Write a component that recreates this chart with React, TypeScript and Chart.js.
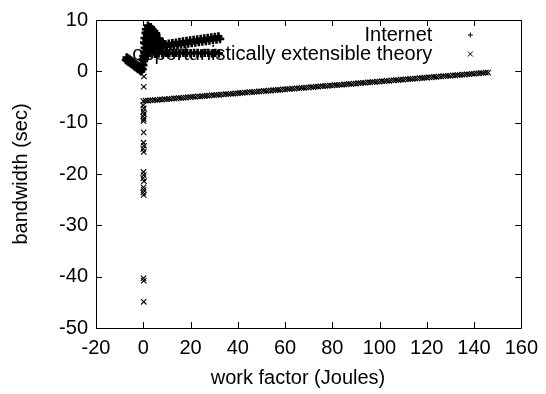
import React, { useEffect, useRef } from "react";
import { Chart, registerables } from "chart.js";

Chart.register(...registerables);

const xTickValues = [-20, 0, 20, 40, 60, 80, 100, 120, 140, 160];
const yTickValues = [-50, -40, -30, -20, -10, 0, 10];
const seriesNames = ["Internet", "opportunistically extensible theory"];
const xTitle = "work factor (Joules)";
const yTitle = "bandwidth (sec)";

// "Internet" (+) points
const internetPoints: [number, number][] = [
  // left arm
  [-7.3, 2.2], [-6.7, 2.0], [-6.1, 1.8], [-5.5, 1.6], [-4.9, 1.4], [-4.3, 1.2], [-3.7, 1.0], [-3.1, 0.8],
  [-2.5, 0.6], [-1.9, 0.4], [-1.3, 0.2], [-0.9, 0.0],
  [-7.0, 2.7], [-6.4, 2.5], [-5.8, 2.3], [-5.2, 2.1], [-4.6, 1.9], [-4.0, 1.7], [-3.4, 1.5], [-2.8, 1.3],
  [-2.2, 1.1], [-1.6, 0.9], [-1.0, 0.7],
  // spike
  [-0.8, 0.6], [-0.5, 1.4], [-0.2, 2.2], [0.1, 3.0], [0.4, 3.8], [0.7, 4.6], [1.0, 5.4], [1.3, 6.2],
  [1.6, 7.0], [1.9, 7.8], [2.2, 8.6],
  [-0.3, 0.4], [0.0, 1.2], [0.3, 2.0], [0.6, 2.8], [0.9, 3.6], [1.2, 4.4], [1.5, 5.2], [1.8, 6.0],
  [2.1, 6.8], [2.4, 7.6], [1.0, 7.5], [1.2, 8.2], [0.6, 6.5], [0.4, 5.6],
  // top blob
  [2.0, 8.9], [2.8, 8.4], [3.2, 8.6], [3.4, 8.0], [4.0, 7.6], [4.6, 7.2], [5.2, 6.8], [5.8, 6.4],
  [6.4, 6.0], [7.0, 5.6], [7.6, 5.2], [3.8, 8.2], [4.6, 7.8], [5.4, 7.4], [6.8, 6.4], [8.2, 5.6], [9.0, 5.2],
  [2.6, 7.4], [3.2, 7.0], [3.8, 6.6], [4.4, 6.2], [5.0, 5.8], [5.6, 5.4], [6.2, 5.0],
  [2.4, 6.4], [3.0, 6.0], [3.6, 5.6], [4.2, 5.2], [4.8, 4.8],
  [2.2, 5.2], [2.8, 4.8], [3.4, 4.4], [2.0, 4.0], [2.6, 3.6], [1.8, 3.0],
  // upper band
  [4.0, 4.4], [5.5, 4.5], [7.0, 4.6], [8.5, 4.7], [10.0, 4.8], [11.5, 4.9], [13.0, 5.0], [14.5, 5.1],
  [16.0, 5.2], [17.5, 5.3], [19.0, 5.4], [20.5, 5.5], [22.0, 5.6], [23.5, 5.7], [25.0, 5.8], [26.5, 5.9],
  [28.0, 6.0], [29.5, 6.1], [31.0, 6.2], [32.5, 6.3],
  [4.8, 5.0], [6.3, 5.1], [7.8, 5.2], [9.3, 5.3], [10.8, 5.4], [12.3, 5.5], [13.8, 5.6], [15.3, 5.7],
  [16.8, 5.8], [18.3, 5.9], [19.8, 6.0], [21.3, 6.1], [22.8, 6.2], [24.3, 6.3], [25.8, 6.4], [27.3, 6.5],
  [28.8, 6.6], [30.3, 6.7], [31.8, 6.8],
  // lower band
  [5.0, 3.4], [6.5, 3.5], [8.0, 3.5], [9.5, 3.6], [11.0, 3.5], [12.5, 3.6], [14.0, 3.6], [15.5, 3.5],
  [17.0, 3.6], [18.5, 3.6], [20.0, 3.5], [21.5, 3.6], [23.0, 3.6], [24.5, 3.5], [26.0, 3.6], [27.5, 3.6],
  [29.0, 3.5], [30.5, 3.6], [32.0, 3.5],
];

// "opportunistically extensible theory" (x) points
const theoryPoints: [number, number][] = [
  // column near zero
  [0.3, -1.0], [0.2, -3.0], [0.0, -6.6], [0.2, -7.2], [0.1, -7.8], [0.3, -8.3], [0.0, -8.8], [0.2, -9.3],
  [0.1, -9.7], [0.2, -11.9], [0.1, -13.9], [0.3, -14.5], [0.0, -15.1], [0.2, -15.7], [0.1, -19.6],
  [0.2, -20.2], [0.0, -20.8], [0.3, -21.4], [0.1, -22.6], [0.2, -23.1], [0.0, -23.6], [0.2, -24.1],
  [0.1, -40.3], [0.2, -40.8], [0.2, -44.9],
  // long band
  [0, -5.8], [1, -5.72], [2, -5.72], [3, -5.64], [4, -5.66], [5, -5.58], [6, -5.57], [7, -5.49],
  [8, -5.5], [9, -5.42], [10, -5.43], [11, -5.35], [12, -5.34], [13, -5.26], [14, -5.27], [15, -5.19],
  [16, -5.2], [17, -5.12], [18, -5.12], [19, -5.04], [20, -5.03], [21, -4.96], [22, -4.96], [23, -4.88],
  [24, -4.9], [25, -4.82], [26, -4.81], [27, -4.73], [28, -4.74], [29, -4.66], [30, -4.66], [31, -4.58],
  [32, -4.59], [33, -4.51], [34, -4.51], [35, -4.43], [36, -4.42], [37, -4.36], [38, -4.36], [39, -4.28],
  [40, -4.28], [41, -4.2], [42, -4.21], [43, -4.13], [44, -4.13], [45, -4.05], [46, -4.05], [47, -3.97],
  [48, -3.98], [49, -3.9], [50, -3.9], [51, -3.82], [52, -3.83], [53, -3.75], [54, -3.75], [55, -3.67],
  [56, -3.67], [57, -3.6], [58, -3.6], [59, -3.52], [60, -3.52], [61, -3.44], [62, -3.45], [63, -3.37],
  [64, -3.37], [65, -3.29], [66, -3.29], [67, -3.21], [68, -3.22], [69, -3.14], [70, -3.14], [71, -3.06],
  [72, -3.07], [73, -2.99], [74, -2.99], [75, -2.91], [76, -2.91], [77, -2.84], [78, -2.84], [79, -2.76],
  [80, -2.76], [81, -2.68], [82, -2.69], [83, -2.61], [84, -2.61], [85, -2.53], [86, -2.53], [87, -2.45],
  [88, -2.46], [89, -2.38], [90, -2.38], [91, -2.3], [92, -2.31], [93, -2.23], [94, -2.23], [95, -2.15],
  [96, -2.15], [97, -2.08], [98, -2.08], [99, -2.0], [100, -2.0], [101, -1.92], [102, -1.93], [103, -1.85],
  [104, -1.85], [105, -1.77], [106, -1.77], [107, -1.69], [108, -1.7], [109, -1.62], [110, -1.62],
  [111, -1.54], [112, -1.55], [113, -1.47], [114, -1.47], [115, -1.39], [116, -1.39], [117, -1.32],
  [118, -1.32], [119, -1.24], [120, -1.24], [121, -1.16], [122, -1.17], [123, -1.09], [124, -1.09],
  [125, -1.01], [126, -1.01], [127, -0.94], [128, -0.94], [129, -0.86], [130, -0.86], [131, -0.78],
  [132, -0.79], [133, -0.71], [134, -0.71], [135, -0.63], [136, -0.63], [137, -0.56], [138, -0.56],
  [139, -0.48], [140, -0.48], [141, -0.4], [142, -0.41], [143, -0.33], [144, -0.33], [145, -0.26],
  [146, -0.26],
];

const FONT = "'Liberation Sans', Arial, Helvetica, sans-serif";

const framePlugin = {
  id: "gnuFrame",
  beforeDatasetsDraw(chart: any) {
    const { ctx, chartArea } = chart;
    const { right, top } = chartArea;
    ctx.save();
    ctx.fillStyle = "#000";
    ctx.strokeStyle = "#000";
    ctx.font = `20px ${FONT}`;
    ctx.textAlign = "right";
    ctx.textBaseline = "alphabetic";
    const mx = right - 51;
    const tx = right - 89;
    const rows = [top + 15, top + 34];
    ctx.fillText(seriesNames[0], tx, rows[0] + 6);
    ctx.fillText(seriesNames[1], tx, rows[1] + 6);
    ctx.lineWidth = 1;
    ctx.beginPath();
    ctx.moveTo(mx - 2.5, rows[0]);
    ctx.lineTo(mx + 2.5, rows[0]);
    ctx.moveTo(mx, rows[0] - 2.5);
    ctx.lineTo(mx, rows[0] + 2.5);
    ctx.moveTo(mx - 2.5, rows[1] - 2.5);
    ctx.lineTo(mx + 2.5, rows[1] + 2.5);
    ctx.moveTo(mx - 2.5, rows[1] + 2.5);
    ctx.lineTo(mx + 2.5, rows[1] - 2.5);
    ctx.stroke();
    ctx.restore();
  },
  afterDatasetsDraw(chart: any) {
    const { ctx, chartArea, scales } = chart;
    const { left, right, top, bottom } = chartArea;
    ctx.save();
    ctx.strokeStyle = "#000";
    ctx.lineWidth = 1;
    ctx.beginPath();
    ctx.rect(Math.round(left) + 0.5, Math.round(top) + 0.5, Math.round(right - left), Math.round(bottom - top));
    const tl = 6;
    for (const v of xTickValues) {
      const px = Math.round(scales.x.getPixelForValue(v)) + 0.5;
      ctx.moveTo(px, bottom);
      ctx.lineTo(px, bottom - tl);
      ctx.moveTo(px, top);
      ctx.lineTo(px, top + tl);
    }
    for (const v of yTickValues) {
      const py = Math.round(scales.y.getPixelForValue(v)) + 0.5;
      ctx.moveTo(left, py);
      ctx.lineTo(left + tl, py);
      ctx.moveTo(right, py);
      ctx.lineTo(right - tl, py);
    }
    ctx.stroke();
    // x axis title (gnuplot places it slightly left of the plot centre)
    ctx.fillStyle = "#000";
    ctx.font = `20px ${FONT}`;
    ctx.textAlign = "center";
    ctx.textBaseline = "middle";
    ctx.fillText(xTitle, 298, 378);
    ctx.restore();
  },
};

export default function App() {
  const canvasRef = useRef<HTMLCanvasElement | null>(null);

  useEffect(() => {
    const canvas = canvasRef.current;
    if (!canvas) return;
    const chart = new Chart(canvas, {
      type: "scatter",
      data: {
        datasets: [
          {
            label: seriesNames[0],
            data: internetPoints.map(([x, y]) => ({ x, y })),
            pointStyle: "cross",
            pointRadius: 4.2,
            borderWidth: 2.6,
            borderColor: "#000",
            backgroundColor: "#000",
          },
          {
            label: seriesNames[1],
            data: theoryPoints.map(([x, y]) => ({ x, y })),
            pointStyle: "crossRot",
            pointRadius: 3.8,
            borderWidth: 1.1,
            borderColor: "#000",
            backgroundColor: "#000",
          },
        ],
      },
      options: {
        responsive: false,
        animation: false,
        devicePixelRatio: 1,
        layout: { padding: { top: 18, right: 20, left: 0, bottom: 0 } },
        plugins: {
          legend: { display: false },
          tooltip: { enabled: false },
        },
        scales: {
          x: {
            type: "linear",
            min: -20,
            max: 160,
            afterBuildTicks: (scale: any) => {
              scale.ticks = xTickValues.map((v) => ({ value: v }));
            },
            afterFit: (scale: any) => {
              scale.height = 66;
            },
            grid: { display: false, drawTicks: false },
            border: { display: false },
            ticks: {
              color: "#000",
              padding: 8,
              maxRotation: 0,
              font: { family: FONT, size: 20 },
            },
            title: { display: false, text: xTitle },
          },
          y: {
            type: "linear",
            min: -50,
            max: 10,
            afterBuildTicks: (scale: any) => {
              scale.ticks = yTickValues.map((v) => ({ value: v }));
            },
            afterFit: (scale: any) => {
              scale.width = 96;
            },
            grid: { display: false, drawTicks: false },
            border: { display: false },
            ticks: {
              color: "#000",
              padding: 8,
              font: { family: FONT, size: 20 },
            },
            title: {
              display: true,
              text: yTitle,
              color: "#000",
              font: { family: FONT, size: 20 },
              padding: { top: 9, bottom: 0 },
            },
          },
        },
      },
      plugins: [framePlugin],
    });
    return () => chart.destroy();
  }, []);

  return (
    <div style={{ position: "fixed", left: 0, top: 0, width: 546, height: 394, background: "#fff" }}>
      <canvas ref={canvasRef} width={546} height={394} style={{ width: 546, height: 394 }} />
    </div>
  );
}
